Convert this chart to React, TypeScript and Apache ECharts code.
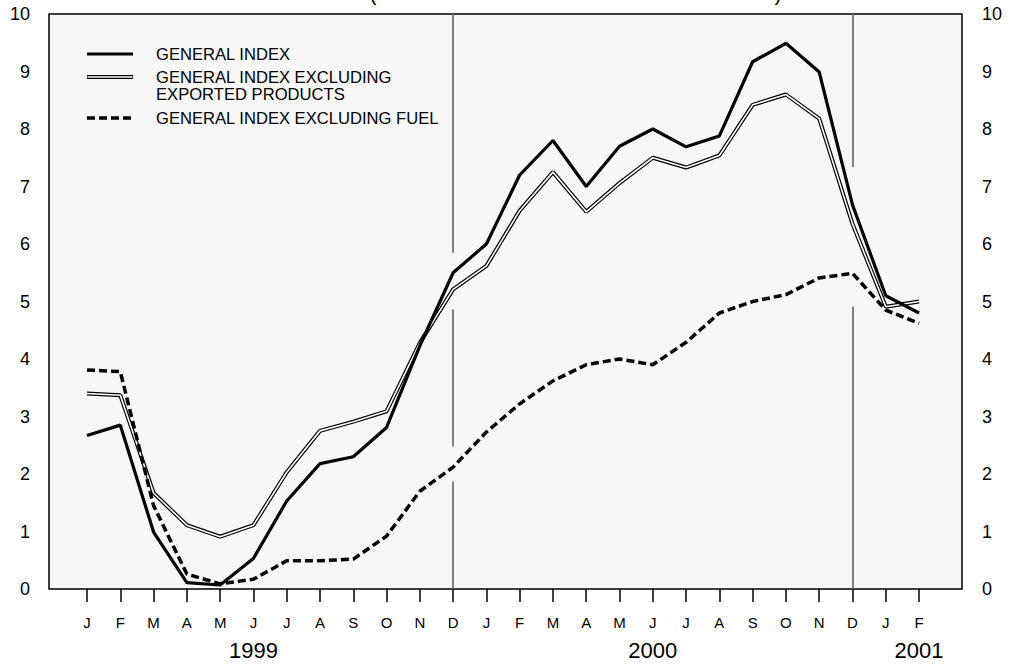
import React, { useEffect, useRef } from "react";
import * as echarts from "echarts";

const monthLabels = ["J","F","M","A","M","J","J","A","S","O","N","D","J","F","M","A","M","J","J","A","S","O","N","D","J","F"];
const yearLabels = ["1999", "2000", "2001"];
const yearPositions = [5, 17, 25];

const seriesNames = [
  "GENERAL INDEX",
  "GENERAL INDEX EXCLUDING\nEXPORTED PRODUCTS",
  "GENERAL INDEX EXCLUDING FUEL",
];

const generalIndex = [2.67, 2.85, 0.99, 0.11, 0.07, 0.53, 1.53, 2.18, 2.3, 2.81, 4.23, 5.5, 6.0, 7.2, 7.8, 7.0, 7.7, 8.0, 7.69, 7.88, 9.17, 9.49, 8.99, 6.68, 5.1, 4.8];
const exclExported = [3.4, 3.37, 1.67, 1.11, 0.91, 1.11, 2.03, 2.75, 2.91, 3.09, 4.28, 5.21, 5.62, 6.58, 7.25, 6.56, 7.06, 7.5, 7.33, 7.54, 8.42, 8.6, 8.18, 6.35, 4.91, 5.0];
const exclFuel = [3.81, 3.78, 1.45, 0.26, 0.09, 0.17, 0.49, 0.49, 0.52, 0.92, 1.7, 2.12, 2.73, 3.22, 3.62, 3.9, 4.0, 3.9, 4.29, 4.8, 5.0, 5.12, 5.41, 5.49, 4.85, 4.62];

// vertical divider lines at December, drawn as segments (gaps where curves pass)
const dividerPositions = [11, 23];
const dividerSegments = [
  [[10, 5.85], [4.86, 2.48], [1.87, 0]],
  [[10, 7.34], [4.91, 0]],
];

const yTicks = [0, 1, 2, 3, 4, 5, 6, 7, 8, 9, 10];

const FONT = "'Liberation Sans', Arial, Helvetica, sans-serif";

const toPairs = (arr: number[]) => arr.map((v, i) => [i, v]);

export default function App() {
  const ref = useRef<HTMLDivElement>(null);

  useEffect(() => {
    if (!ref.current) return;
    const chart = echarts.init(ref.current, undefined, { renderer: "svg" });

    const markData: any[] = [];
    dividerPositions.forEach((p, k) => {
      dividerSegments[k].forEach(([a, b]) => {
        markData.push([{ coord: [p, a] }, { coord: [p, b] }]);
      });
    });

    const monthIdx = monthLabels.map((_, i) => i);

    const legendX1 = 87;
    const legendX2 = 133;
    const legendTextX = 156;
    const legendFont = 16.6;
    const [name2a, name2b] = seriesNames[1].split("\n");

    const legendText = (text: string, y: number) => ({
      type: "text",
      x: legendTextX,
      y,
      style: { text, fontSize: legendFont, fontFamily: FONT, fill: "#000", verticalAlign: "middle" },
    });

    const option: any = {
      animation: false,
      backgroundColor: "#ffffff",
      textStyle: { fontFamily: FONT },
      grid: {
        left: 49,
        right: 50,
        top: 14,
        bottom: 77,
        show: true,
        backgroundColor: "#f7f7f7",
        borderColor: "#000000",
        borderWidth: 1.5,
      },
      xAxis: [
        {
          type: "value",
          min: -1.142,
          max: 26.29,
          axisLine: { show: false },
          splitLine: { show: false },
          axisTick: {
            show: true,
            customValues: monthIdx,
            length: 13,
            lineStyle: { color: "#000", width: 1.5 },
          },
          axisLabel: {
            customValues: monthIdx,
            formatter: (v: number) => monthLabels[Math.round(v)] ?? "",
            fontSize: 15,
            color: "#000",
            margin: 26,
            fontFamily: FONT,
          },
        },
        {
          type: "value",
          min: -1.142,
          max: 26.29,
          position: "bottom",
          axisLine: { show: false },
          splitLine: { show: false },
          axisTick: { show: false },
          axisLabel: {
            customValues: yearPositions,
            formatter: (v: number) => yearLabels[yearPositions.indexOf(Math.round(v))] ?? "",
            fontSize: 22,
            color: "#000",
            margin: 50,
            fontFamily: FONT,
          },
        },
      ],
      yAxis: [
        {
          type: "value",
          min: 0,
          max: 10,
          interval: 1,
          position: "left",
          axisLine: { show: false },
          axisTick: { show: false },
          splitLine: { show: false },
          axisLabel: { fontSize: 18, color: "#000", margin: 19, fontFamily: FONT, customValues: yTicks },
        },
        {
          type: "value",
          min: 0,
          max: 10,
          interval: 1,
          position: "right",
          axisLine: { show: false },
          axisTick: { show: false },
          splitLine: { show: false },
          axisLabel: { fontSize: 18, color: "#000", margin: 20, fontFamily: FONT, customValues: yTicks },
        },
      ],
      series: [
        {
          name: "dividers",
          type: "line",
          data: [],
          markLine: {
            silent: true,
            symbol: ["none", "none"],
            label: { show: false },
            lineStyle: { color: "#808080", width: 2, type: "solid" },
            emphasis: { disabled: true },
            data: markData,
          },
        },
        {
          name: seriesNames[1] + "-outer",
          type: "line",
          data: toPairs(exclExported),
          showSymbol: false,
          lineStyle: { color: "#000", width: 4 },
          silent: true,
        },
        {
          name: seriesNames[1],
          type: "line",
          data: toPairs(exclExported),
          showSymbol: false,
          lineStyle: { color: "#ffffff", width: 1.6 },
          silent: true,
        },
        {
          name: seriesNames[2],
          type: "line",
          data: toPairs(exclFuel),
          showSymbol: false,
          lineStyle: { color: "#000", width: 3.5, type: [8, 4] },
          silent: true,
        },
        {
          name: seriesNames[0],
          type: "line",
          data: toPairs(generalIndex),
          showSymbol: false,
          lineStyle: { color: "#000", width: 3.2 },
          silent: true,
        },
      ],
      graphic: [
        // legend
        { type: "line", shape: { x1: legendX1, y1: 54, x2: legendX2, y2: 54 }, style: { stroke: "#000", lineWidth: 3.2 } },
        legendText(seriesNames[0], 54),
        { type: "line", shape: { x1: legendX1, y1: 77, x2: legendX2, y2: 77 }, style: { stroke: "#000", lineWidth: 4 } },
        { type: "line", shape: { x1: legendX1 + 0.5, y1: 77, x2: legendX2 - 0.5, y2: 77 }, style: { stroke: "#fff", lineWidth: 1.6 } },
        legendText(name2a, 77),
        legendText(name2b, 94),
        { type: "line", shape: { x1: legendX1, y1: 118, x2: legendX2, y2: 118 }, style: { stroke: "#000", lineWidth: 3.5, lineDash: [8, 4] } },
        legendText(seriesNames[2], 118),
        // cut-off subtitle (only the bottoms of the parentheses visible)
        { type: "text", x: 373, y: -6, style: { text: "(", fontSize: 20, fontFamily: FONT, fill: "#000", align: "center", verticalAlign: "middle" } },
        { type: "text", x: 778, y: -6, style: { text: ")", fontSize: 20, fontFamily: FONT, fill: "#000", align: "center", verticalAlign: "middle" } },
      ],
    };

    chart.setOption(option);
    return () => chart.dispose();
  }, []);

  return (
    <div
      ref={ref}
      style={{ position: "fixed", left: 0, top: 0, width: 1012, height: 666 }}
    />
  );
}
